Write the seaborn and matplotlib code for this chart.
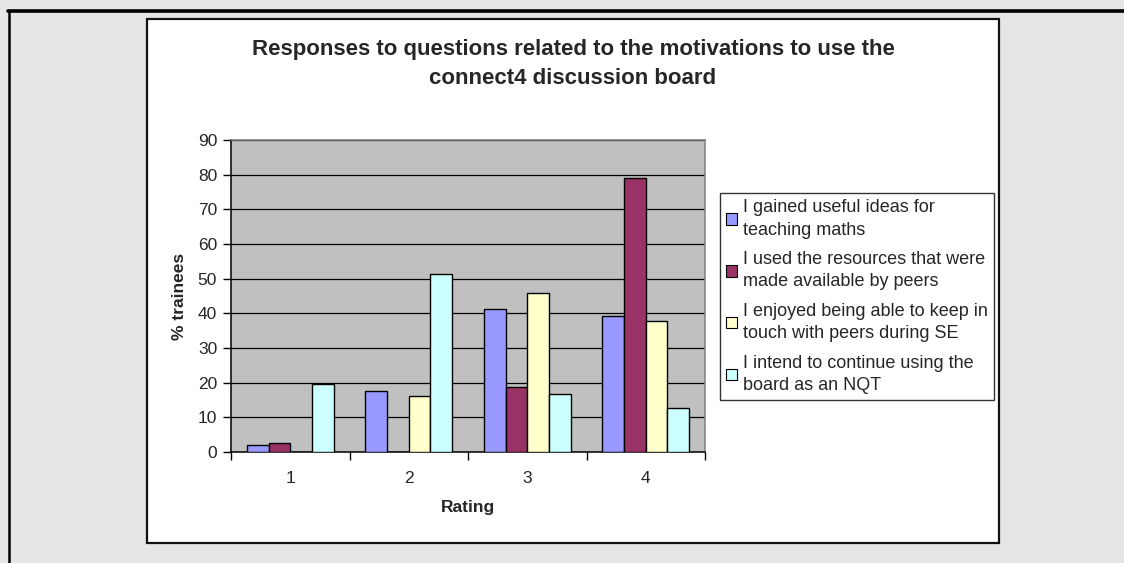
import matplotlib
matplotlib.use("Agg")
import matplotlib.pyplot as plt
import pandas as pd
import seaborn as sns
from matplotlib.patches import Patch, Rectangle
from matplotlib.lines import Line2D

ratings = ["1", "2", "3", "4"]
series = [
    "I gained useful ideas for\nteaching maths",
    "I used the resources that were\nmade available by peers",
    "I enjoyed being able to keep in\ntouch with peers during SE",
    "I intend to continue using the\nboard as an NQT",
]
ideas = [2.1, 17.5, 41.3, 39.3]
resources = [2.5, 0.0, 18.7, 79.0]
keep_touch = [0.0, 16.2, 45.8, 37.7]
continue_nqt = [19.5, 51.4, 16.6, 12.6]
colors = ["#9999FF", "#993366", "#FFFFCC", "#CCFFFF"]

rows = []
for name, vals in zip(series, [ideas, resources, keep_touch, continue_nqt]):
    for r, v in zip(ratings, vals):
        rows.append({"Rating": r, "series": name, "value": v})
df = pd.DataFrame(rows)

sns.set_theme(style="white")
plt.rcParams["font.family"] = ["Liberation Sans", "DejaVu Sans"]

W, H = 1124, 563
fig = plt.figure(figsize=(W / 100, H / 100), dpi=100, facecolor="#E5E5E5")

# chart area frame and page borders (pixel coords -> figure fraction)
fig.patches.append(Rectangle((147 / W, 1 - 543 / H), (999 - 147) / W, (543 - 19) / H,
                             transform=fig.transFigure, facecolor="white",
                             edgecolor="#111111", linewidth=1.6, zorder=-1))
fig.lines.append(Line2D([8 / W, 1], [1 - 10.5 / H] * 2, transform=fig.transFigure,
                        color="black", linewidth=2.6))
fig.lines.append(Line2D([9 / W] * 2, [0, 1 - 10.5 / H], transform=fig.transFigure,
                        color="black", linewidth=1.8))

ax = fig.add_axes([231 / W, 1 - 452 / H, (705 - 231) / W, (452 - 140) / H])
ax.set_facecolor("#C0C0C0")
sns.barplot(data=df, x="Rating", y="value", hue="series", palette=colors,
            saturation=1, width=0.73, edgecolor="black", linewidth=1.0,
            legend=False, ax=ax, zorder=3)

ax.set_ylim(0, 90)
ax.set_xlim(-0.5, 3.5)
ax.set_yticks(range(0, 91, 10))
ax.yaxis.grid(True, color="black", linewidth=0.9, zorder=1)
ax.set_axisbelow(True)
ax.tick_params(axis="y", which="major", length=6, width=1, color="black",
               labelsize=12.5, pad=4, left=True)
ax.set_xticks(range(4))
ax.set_xticks([-0.5, 0.5, 1.5, 2.5, 3.5], minor=True)
ax.tick_params(axis="x", which="major", length=0, labelsize=12.5, pad=14)
ax.tick_params(axis="x", which="minor", length=6, width=1, color="black",
               direction="out", bottom=True)
for side in ["left", "bottom"]:
    ax.spines[side].set_color("black")
    ax.spines[side].set_linewidth(1.1)
for side in ["top", "right"]:
    ax.spines[side].set_color("#808080")
    ax.spines[side].set_linewidth(1.1)

ax.set_xlabel("Rating", fontsize=12.5, fontweight="bold", labelpad=10)
ax.set_ylabel("% trainees", fontsize=12.5, fontweight="bold", labelpad=8)

fig.text(573 / W, 1 - 64 / H,
         "Responses to questions related to the motivations to use the\nconnect4 discussion board",
         ha="center", va="center", fontsize=16, fontweight="bold", linespacing=1.45)

handles = [Patch(facecolor=c, edgecolor="black", linewidth=0.8) for c in colors]
leg = fig.legend(handles, series, loc="upper left",
                 bbox_to_anchor=(720 / W, 1 - 193 / H), fontsize=13,
                 frameon=True, fancybox=False, borderpad=0.35, labelspacing=0.7,
                 handlelength=0.6, handleheight=0.6, handletextpad=0.3,
                 borderaxespad=0)
leg.get_frame().set_edgecolor("black")
leg.get_frame().set_linewidth(1.0)
for t in leg.get_texts():
    t.set_linespacing(1.4)

fig.savefig("out.png", dpi=100, facecolor=fig.get_facecolor())
